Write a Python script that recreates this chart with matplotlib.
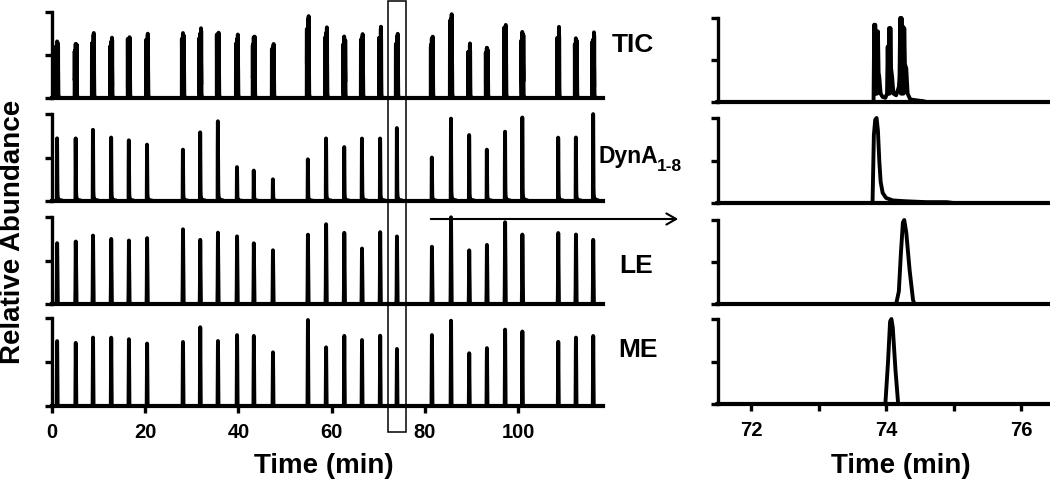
import numpy as np
import matplotlib.pyplot as plt
from matplotlib.patches import Rectangle, FancyArrowPatch
import matplotlib.transforms as mtransforms

plt.rcParams['font.family'] = ['Liberation Sans', 'DejaVu Sans']
plt.rcParams['font.weight'] = 'bold'

# apex times (min) of the injections in the full run
peak_times = [1.1, 5.1, 8.8, 12.7, 16.5, 20.4, 28.1, 31.8, 35.6, 39.7, 43.3, 47.4,
              54.9, 58.8, 62.7, 66.5, 70.4, 74.0, 81.5, 85.6, 89.5, 93.3, 97.2,
              100.9, 108.6, 112.4, 116.1]

# relative peak heights per trace (full run)
tic_heights = [0.75, 0.74, 0.80, 0.80, 0.76, 0.76, 0.86, 0.92, 0.82, 0.84, 0.84, 0.64,
               1.00, 0.93, 0.82, 0.76, 0.84, 0.78, 0.83, 1.00, 0.64, 0.67, 0.95, 0.89,
               0.83, 0.80, 0.85]
dyna_heights = [0.72, 0.72, 0.82, 0.73, 0.70, 0.65, 0.59, 0.79, 0.92, 0.39, 0.35, 0.25,
                0.48, 0.72, 0.62, 0.72, 0.72, 0.84, 0.50, 0.95, 0.76, 0.59, 0.80, 0.96,
                0.73, 0.73, 1.00]
le_heights = [0.70, 0.72, 0.79, 0.75, 0.73, 0.76, 0.86, 0.74, 0.82, 0.78, 0.70, 0.62,
              0.80, 0.92, 0.82, 0.64, 0.83, 0.78, 0.66, 1.00, 0.62, 0.68, 0.94, 0.80,
              0.82, 0.80, 0.74]
me_heights = [0.74, 0.72, 0.78, 0.78, 0.76, 0.71, 0.73, 0.90, 0.74, 0.81, 0.80, 0.61,
              0.98, 0.67, 0.80, 0.75, 0.80, 0.65, 0.81, 0.97, 0.60, 0.66, 0.87, 0.85,
              0.73, 0.78, 0.80]

# zoomed traces around 74 min (TIC is made of individual scans)
tic_zoom_t = [71.5, 73.815, 73.825, 73.83, 73.84, 73.85, 73.86, 73.87, 73.88, 73.89,
              73.90, 73.92, 73.95, 73.99,
              74.015, 74.025, 74.035, 74.045, 74.055, 74.065, 74.075, 74.09, 74.11, 74.15,
              74.19, 74.20, 74.21, 74.22, 74.23, 74.24, 74.25, 74.26, 74.27, 74.28,
              74.30, 74.32, 74.36, 74.45, 74.55, 74.60, 76.5]
tic_zoom_y = [0, 0, 0.92, 0.10, 0.92, 0.10, 0.84, 0.10, 0.84, 0.35,
              0.30, 0.10, 0.06, 0.05,
              0.10, 0.66, 0.10, 0.88, 0.10, 0.88, 0.40, 0.30, 0.10, 0.08,
              0.18, 0.30, 1.00, 0.10, 1.00, 0.10, 0.90, 0.10, 0.88, 0.45,
              0.40, 0.10, 0.03, 0.02, 0.01, 0, 0]
dyna_zoom_t = [71.5, 73.80, 73.82, 73.84, 73.86, 73.88, 73.90, 73.92, 73.95, 74.00,
               74.10, 74.30, 74.60, 74.90, 75.00, 76.5]
dyna_zoom_y = [0, 0, 0.80, 0.98, 1.00, 0.85, 0.50, 0.25, 0.12, 0.06,
               0.03, 0.02, 0.01, 0.01, 0, 0]
le_zoom_t = [71.5, 74.15, 74.19, 74.22, 74.25, 74.27, 74.30, 74.35, 74.40, 74.42, 76.5]
le_zoom_y = [0, 0, 0.15, 0.60, 0.97, 1.00, 0.85, 0.40, 0.05, 0, 0]
me_zoom_t = [71.5, 73.99, 74.03, 74.06, 74.08, 74.10, 74.14, 74.18, 76.5]
me_zoom_y = [0, 0, 0.50, 0.97, 1.00, 0.90, 0.40, 0, 0]

W, H = 1050, 482
fig = plt.figure(figsize=(W / 100, H / 100), dpi=100)


def px_box(x0, x1, base, top):
    return [x0 / W, 1 - base / H, (x1 - x0) / W, (base - top) / H]


def setup(ax, xlim, show_x):
    ax.set_xlim(*xlim)
    ax.set_ylim(0, 1)
    ax.patch.set_alpha(0)
    for s in ['top', 'right']:
        ax.spines[s].set_visible(False)
    ax.spines['left'].set_linewidth(2.4)
    ax.spines['bottom'].set_linewidth(3)
    for s in ['left', 'bottom']:
        ax.spines[s].set_capstyle('projecting')
    ax.set_yticks([0, 0.5, 1.0])
    ax.set_yticklabels([])
    ax.tick_params(axis='y', direction='out', length=5, width=2.4)
    if show_x:
        ax.tick_params(axis='x', direction='out', length=5, width=2.4, pad=7)
    else:
        ax.tick_params(axis='x', bottom=False, labelbottom=False)


def shape_trace(t, times, heights, tx, ty):
    # reuse the zoomed peak shape, centred on its centroid, for every injection
    tx = np.asarray(tx)
    ty = np.asarray(ty)
    centre = np.sum(tx * ty) / np.sum(ty)
    y = np.zeros_like(t)
    for t0, h in zip(times, heights):
        y = np.maximum(y, h * np.interp(t - t0, tx - centre, ty, left=0, right=0))
    return y


left_base = [98, 201, 304, 406]
left_top = [12, 114, 217, 318]
right_base = [102, 203, 304, 404]
right_top = [18, 118, 220, 319]

t_full = np.linspace(0, 118.2, 24000)
full_sets = [tic_heights, dyna_heights, le_heights, me_heights]
zoom_sets = [(tic_zoom_t, tic_zoom_y), (dyna_zoom_t, dyna_zoom_y),
             (le_zoom_t, le_zoom_y), (me_zoom_t, me_zoom_y)]

left_axes = []
for i in range(4):
    ax = fig.add_axes(px_box(52, 603, left_base[i], left_top[i]))
    setup(ax, (0, 118.2), i == 3)
    zt, zy = zoom_sets[i]
    y = shape_trace(t_full, peak_times, full_sets[i], zt, zy)
    ax.plot(t_full, y, color='black', lw=2.8, clip_on=False)
    left_axes.append(ax)
left_ticks = [0, 20, 40, 60, 80, 100]
left_axes[3].set_xticks(left_ticks)
left_axes[3].set_xticklabels([str(v) for v in left_ticks], fontsize=14.5,
                             fontweight='bold')

right_ticks = [72, 73, 74, 75, 76]
for i in range(4):
    ax = fig.add_axes(px_box(718, 1050, right_base[i], right_top[i]))
    setup(ax, (71.51, 76.43), i == 3)
    zt, zy = zoom_sets[i]
    ax.plot(zt, zy, color='black', lw=2.8, clip_on=False)
    if i == 3:
        ax.set_xticks(right_ticks)
        ax.set_xticklabels([str(v) if v % 2 == 0 else '' for v in right_ticks],
                           fontsize=14.5, fontweight='bold')

# box marking the zoomed window
trans = mtransforms.blended_transform_factory(left_axes[3].transData, fig.transFigure)
rect = Rectangle((72, 1 - 432 / H), 4, (432 - 1) / H, transform=trans,
                 fill=False, lw=1.1, ec='black', clip_on=False)
fig.add_artist(rect)

arrow = FancyArrowPatch((428 / W, 1 - 219 / H), (681 / W, 1 - 219 / H),
                        transform=fig.transFigure, arrowstyle='->,head_length=7,head_width=4',
                        lw=1.5, color='black', mutation_scale=1)
fig.add_artist(arrow)

# labels
fig.text(612 / W, 1 - 52 / H, 'TIC', fontsize=19, ha='left', va='baseline')
fig.text(598 / W, 1 - 163 / H, 'DynA', fontsize=16.5, ha='left', va='baseline')
fig.text(657 / W, 1 - 171 / H, '1-8', fontsize=12.5, ha='left', va='baseline')
fig.text(619 / W, 1 - 273 / H, 'LE', fontsize=19, ha='left', va='baseline')
fig.text(618 / W, 1 - 357 / H, 'ME', fontsize=19, ha='left', va='baseline')

fig.text(324 / W, 1 - 473 / H, 'Time (min)', fontsize=20, ha='center', va='baseline')
fig.text(901 / W, 1 - 473 / H, 'Time (min)', fontsize=20, ha='center', va='baseline')
fig.text(13 / W, 1 - 232 / H, 'Relative Abundance', fontsize=20, rotation=90,
         ha='center', va='center')

fig.savefig('out.png', dpi=100)
